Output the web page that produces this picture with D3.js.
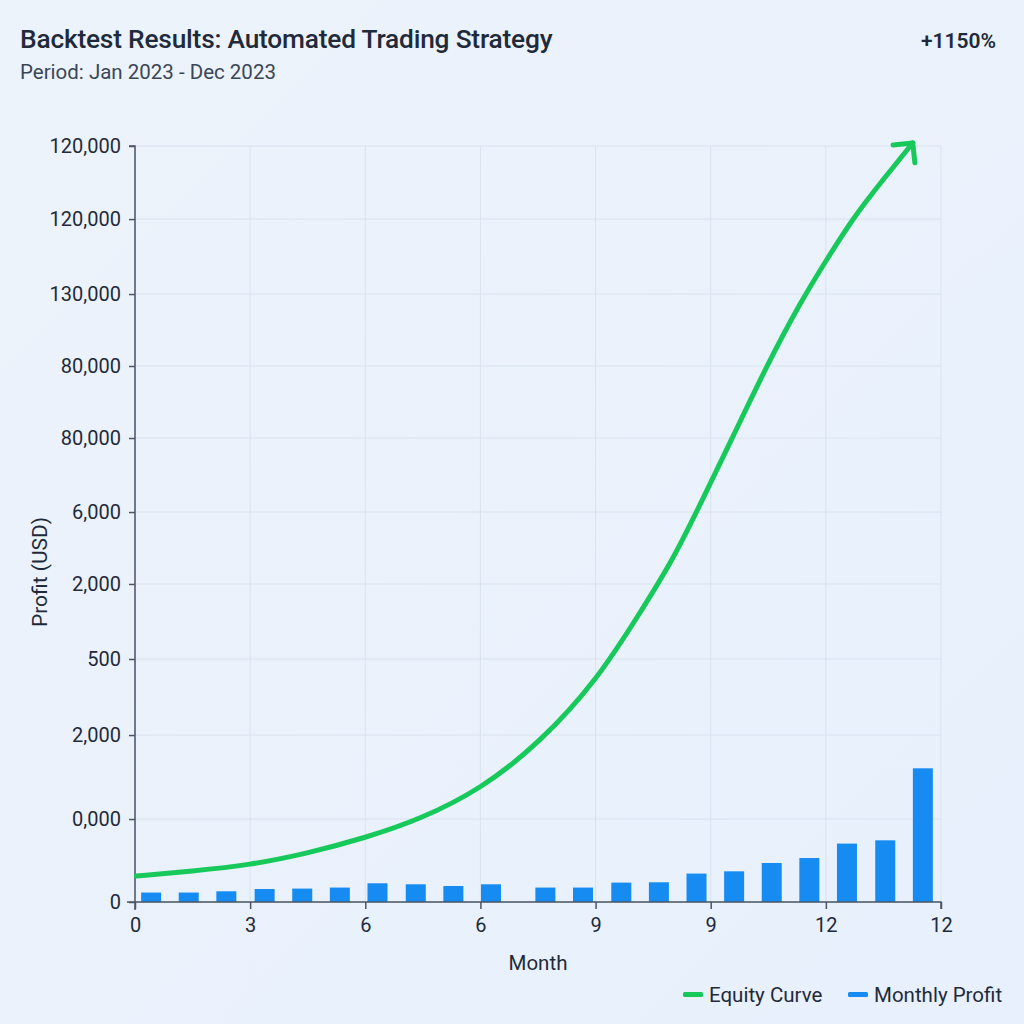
<!DOCTYPE html>
<html>
<head>
<meta charset="utf-8">
<script src="https://cdn.jsdelivr.net/npm/d3@7"></script>
<style>
  html, body { margin: 0; padding: 0; background: #eaf1fb; }
  svg { display: block; font-family: Roboto, "Noto Sans", sans-serif; }
</style>
</head>
<body>
<svg id="chart" width="1024" height="1024"></svg>
<script>
// ---- data ----
const title = "Backtest Results: Automated Trading Strategy";
const subtitle = "Period: Jan 2023 - Dec 2023";
const badge = "+1150%";

const xTickLabels = ["0", "3", "6", "6", "9", "9", "12", "12"];
const yTickValues = [0, 13170, 26500, 38570, 50480, 61900, 73650, 85080, 96500, 108400, 120000];
const yTickLabels = ["0", "0,000", "2,000", "500", "2,000", "6,000", "80,000", "80,000", "130,000", "120,000", "120,000"];

const barMonths = [0.24, 0.80, 1.36, 1.93, 2.49, 3.05, 3.61, 4.18, 4.74, 5.30,
                   6.11, 6.67, 7.24, 7.80, 8.36, 8.92, 9.48, 10.04, 10.60, 11.17, 11.73];
const barValues = [1500, 1500, 1700, 2060, 2130, 2290, 2970, 2810, 2540, 2810,
                   2290, 2290, 3080, 3130, 4510, 4870, 6190, 6980, 9270, 9790, 21220];

const equityMonths = [0.02, 0.85, 1.71, 2.56, 3.42, 4.24, 5.15, 6.03, 6.88, 7.50, 8.01, 8.45, 8.90, 9.40, 9.90, 10.30, 10.69, 11.14, 11.58];
const equityValues = [4130, 4900, 5870, 7700, 10160, 13100, 17900, 25300, 35240, 45600, 54290, 63900, 73810, 85000, 95080, 102000, 108570, 114700, 120480];

const legendItems = ["Equity Curve", "Monthly Profit"];

// ---- layout ----
const svg = d3.select("#chart");
const M = { left: 135, right: 941, top: 146, bottom: 902 };
const textColor = "#1f2a3b";
const green = "#17c95b";
const blue = "#168bf2";

const defs = svg.append("defs");
const bg = defs.append("linearGradient").attr("id", "bg").attr("x1", 0).attr("y1", 0).attr("x2", 1).attr("y2", 1);
bg.append("stop").attr("offset", "0%").attr("stop-color", "#edf3fb");
bg.append("stop").attr("offset", "100%").attr("stop-color", "#e7f0fc");
svg.append("rect").attr("width", 1024).attr("height", 1024).attr("fill", "url(#bg)");

defs.append("marker")
  .attr("id", "arrow").attr("markerUnits", "userSpaceOnUse")
  .attr("viewBox", "-20 -20 24 40").attr("refX", 0).attr("refY", 0)
  .attr("markerWidth", 24).attr("markerHeight", 40).attr("orient", "auto")
  .append("path").attr("d", "M-14,-14 L0,0 L-14,14")
  .attr("fill", "none").attr("stroke", green).attr("stroke-width", 5)
  .attr("stroke-linecap", "round").attr("stroke-linejoin", "round");

const x = d3.scaleLinear().domain([0, 12]).range([M.left, M.right]);
const y = d3.scaleLinear().domain([0, 120000]).range([M.bottom, M.top]);
const xTickPos = xTickLabels.map((d, i) => i * 12 / (xTickLabels.length - 1));

// grid
const grid = svg.append("g").attr("stroke", "#d9e3ef").attr("stroke-width", 1);
grid.selectAll("line.h").data(yTickValues).join("line")
  .attr("x1", M.left).attr("x2", M.right)
  .attr("y1", d => y(d)).attr("y2", d => y(d));
grid.selectAll("line.v").data(xTickPos).join("line")
  .attr("y1", M.top).attr("y2", M.bottom)
  .attr("x1", d => x(d)).attr("x2", d => x(d));

// bars
const barW = 20;
svg.append("g").selectAll("rect").data(barValues).join("rect")
  .attr("x", (d, i) => x(barMonths[i]) - barW / 2)
  .attr("width", barW)
  .attr("y", d => y(d))
  .attr("height", d => y(0) - y(d))
  .attr("fill", blue);

// axes
const axisColor = "#4a5566";
const yAxis = d3.axisLeft(y).tickValues(yTickValues).tickSize(6).tickPadding(8)
  .tickFormat((d, i) => yTickLabels[i]);
const gy = svg.append("g").attr("transform", `translate(${M.left},0)`).call(yAxis);
gy.select(".domain").attr("stroke", axisColor).attr("stroke-width", 1.5)
  .attr("d", `M-6,${M.top}H0V${M.bottom + 8}`);
gy.selectAll(".tick line").attr("stroke", axisColor).attr("stroke-width", 1.5);
gy.selectAll(".tick text").attr("fill", textColor).style("font-size", "20px").style("font-family", "Roboto");

const xAxis = d3.axisBottom(x).tickValues(xTickPos).tickSize(7).tickPadding(9)
  .tickFormat((d, i) => xTickLabels[i]);
const gx = svg.append("g").attr("transform", `translate(0,${M.bottom})`).call(xAxis);
gx.select(".domain").attr("stroke", axisColor).attr("stroke-width", 1.5)
  .attr("d", `M${M.left - 8},0H${M.right}V7`);
gx.selectAll(".tick line").attr("stroke", axisColor).attr("stroke-width", 1.5);
gx.selectAll(".tick text").attr("fill", textColor).style("font-size", "20px").style("font-family", "Roboto");

// equity line
const pts = equityMonths.map((m, i) => [x(m), y(equityValues[i])]);
svg.append("path").datum(pts)
  .attr("d", d3.line().curve(d3.curveBasis))
  .attr("fill", "none").attr("stroke", green).attr("stroke-width", 5)
  .attr("stroke-linecap", "round")
  .attr("marker-end", "url(#arrow)");

// titles
svg.append("text").attr("x", 20).attr("y", 48).text(title)
  .attr("fill", textColor).style("font-size", "26.3px").style("font-weight", 500)
  .style("letter-spacing", "-0.2px");
svg.append("text").attr("x", 20).attr("y", 79).text(subtitle)
  .attr("fill", "#3a4657").style("font-size", "20.5px");
svg.append("text").attr("x", 996).attr("y", 48).text(badge)
  .attr("text-anchor", "end").attr("fill", textColor)
  .style("font-size", "21px").style("font-weight", 600);

// axis titles
svg.append("text").attr("x", 538).attr("y", 970).attr("text-anchor", "middle")
  .text("Month").attr("fill", textColor).style("font-size", "20.5px");
svg.append("text").attr("transform", "translate(47,572) rotate(-90)")
  .attr("text-anchor", "middle").text("Profit (USD)")
  .attr("fill", textColor).style("font-size", "21px");

// legend
const lg = svg.append("g");
const legendColors = [green, blue];
const legendX = [683, 848];
legendItems.forEach((t, i) => {
  lg.append("rect").attr("x", legendX[i]).attr("y", 992).attr("width", 20).attr("height", 5)
    .attr("rx", 1.5).attr("fill", legendColors[i]);
  lg.append("text").attr("x", legendX[i] + 26).attr("y", 1002).text(t)
    .attr("fill", textColor).style("font-size", "20.5px");
});
</script>
</body>
</html>
